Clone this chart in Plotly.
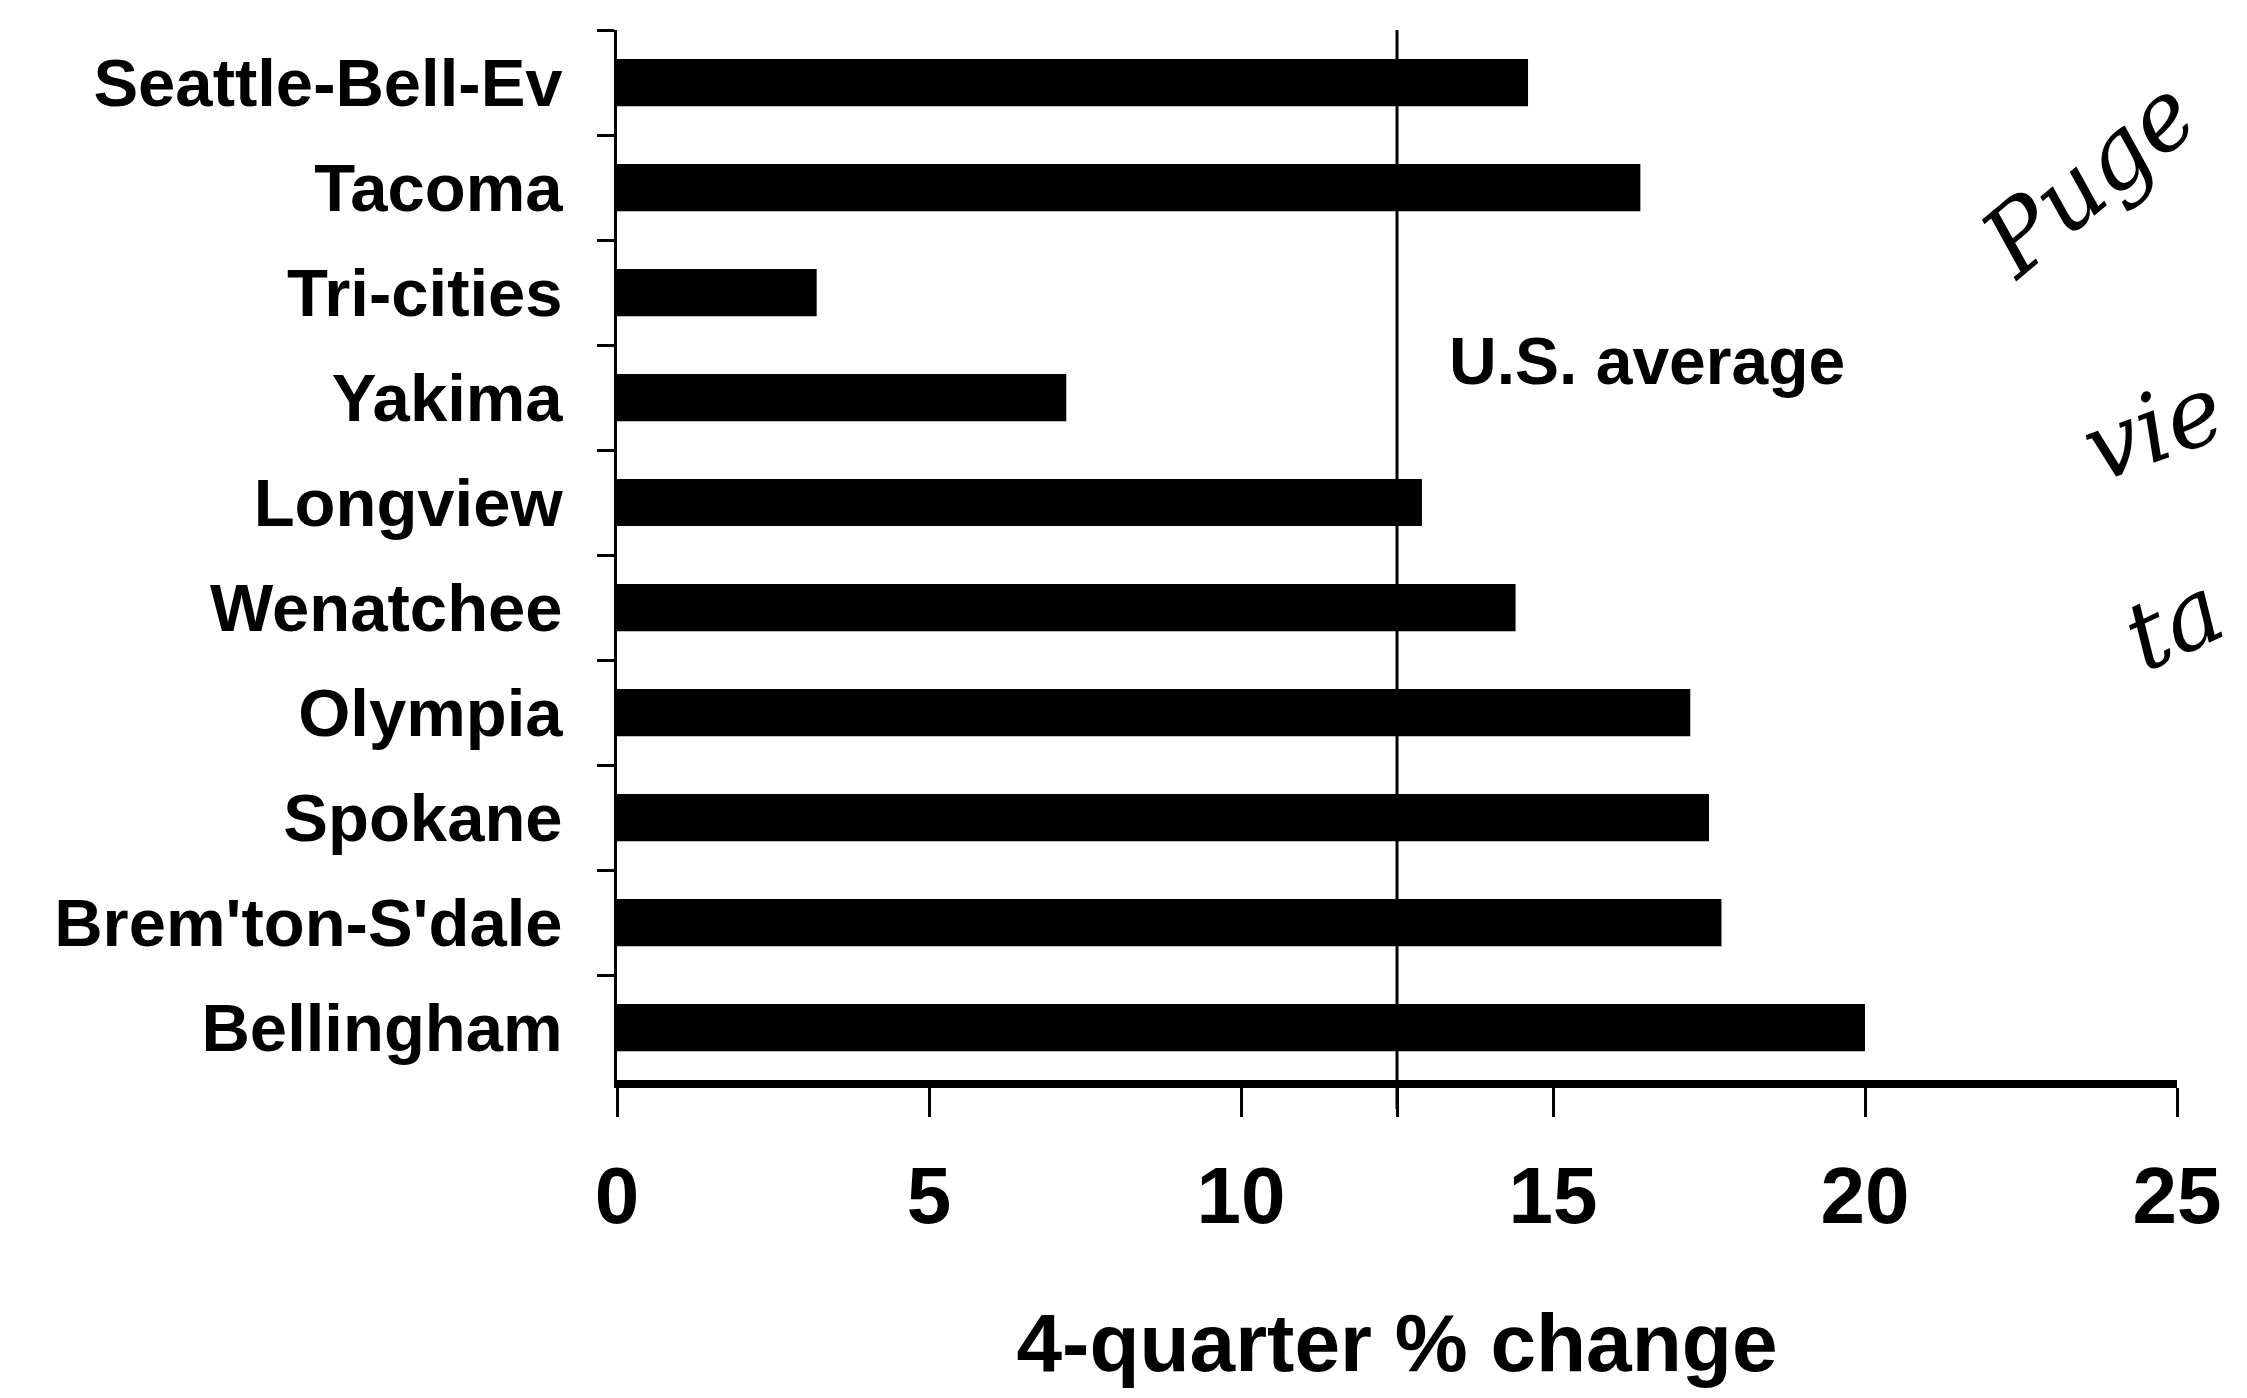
import plotly.graph_objects as go

# Data
areas = ["Seattle-Bell-Ev", "Tacoma", "Tri-cities", "Yakima", "Longview",
         "Wenatchee", "Olympia", "Spokane", "Brem'ton-S'dale", "Bellingham"]
pct_change = [14.6, 16.4, 3.2, 7.2, 12.9, 14.4, 17.2, 17.5, 17.7, 20.0]
us_average = 12.5
x_ticks = [0, 5, 10, 12.5, 15, 20, 25]
x_ticktext = ["0", "5", "10", "", "15", "20", "25"]
x_title = "4-quarter % change"
us_label = "U.S. average"
handwriting = ["Puge", "vie", "ta"]

FONT = "Liberation Sans, Arial, sans-serif"

W, H = 2247, 1398
L, R, T, B = 609, 78, 22, 326
plot_w = W - L - R
plot_h = H - T - B

fig = go.Figure()
fig.add_trace(go.Bar(
    y=areas, x=pct_change, orientation="h",
    marker=dict(color="black", line=dict(width=0)),
    width=0.45, showlegend=False,
))

# US average line (extends below axis like a tick)
fig.add_shape(type="line", xref="x", yref="paper",
              x0=us_average, x1=us_average, y0=-29 / plot_h, y1=1,
              line=dict(color="black", width=3), layer="above")

fig.add_annotation(x=us_average, xref="x", y=1 - (353 - T) / plot_h, yref="paper",
                   text=us_label, showarrow=False, xanchor="left",
                   xshift=50, yanchor="middle",
                   font=dict(family=FONT, size=66, color="black", weight="bold"))

# handwriting notes at right edge
hw_font = dict(family="DejaVu Serif, serif", size=95, color="black", style="italic")
hw_pos = [(2080, 170, -40), (2145, 420, -20), (2165, 615, -25)]
for txt, (px, py, ang) in zip(handwriting, hw_pos):
    fig.add_annotation(x=(px - L) / plot_w, y=1 - (py - T) / plot_h,
                       xref="paper", yref="paper", text=txt,
                       showarrow=False, xanchor="center", yanchor="middle",
                       textangle=ang, font=hw_font)

fig.update_layout(
    width=W, height=H,
    margin=dict(l=L, r=R, t=T, b=B),
    paper_bgcolor="white", plot_bgcolor="white",
    bargap=0.55,
    font=dict(family=FONT, color="black"),
    xaxis=dict(
        range=[0, 25], tickmode="array", tickvals=x_ticks, ticktext=x_ticktext,
        showgrid=False, zeroline=False,
        showline=True, linecolor="black", linewidth=8,
        ticks="outside", ticklen=29, tickwidth=3, tickcolor="black",
        ticklabelstandoff=10,
        tickfont=dict(family=FONT, size=80, color="black", weight="bold"),
        title=dict(text=x_title, standoff=78,
                   font=dict(family=FONT, size=82, color="black", weight="bold")),
    ),
    yaxis=dict(
        categoryorder="array", categoryarray=areas,
        range=[9.5, -0.5],
        showgrid=False, zeroline=False,
        showline=True, linecolor="black", linewidth=3,
        ticks="outside", ticklen=17, tickwidth=3, tickcolor="black",
        tickson="boundaries", ticklabelstandoff=38,
        tickfont=dict(family=FONT, size=67, color="black", weight="bold"),
    ),
)

fig.write_html("out.html")
